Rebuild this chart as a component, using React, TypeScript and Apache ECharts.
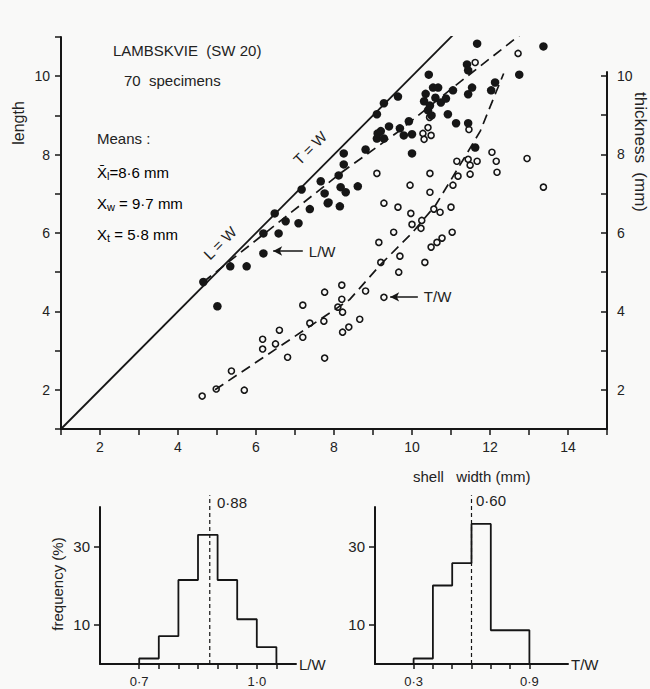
import React, { useEffect, useRef } from 'react';
import * as echarts from 'echarts';

// ---- main scatter: filled = length vs width, open = thickness vs width ----
const filledW = [4.65, 5.01, 5.34, 5.76, 6.19, 6.19, 6.48, 6.58, 6.76, 7.09, 7.38, 7.84, 7.17, 7.66, 7.76, 7.86, 8.15, 8.12, 8.17, 8.30, 8.25, 8.25, 8.61, 8.81, 9.10, 9.28, 9.12, 9.41, 9.69, 9.92, 9.79, 10.00, 10.00, 9.10, 9.28, 9.64, 10.43, 10.54, 10.67, 10.31, 10.46, 10.74, 10.41, 10.92, 11.05, 11.13, 11.44, 11.44, 11.54, 11.41, 11.44, 11.67, 12.03, 12.95, 13.37, 12.75, 12.03, 12.13, 11.62, 10.60, 10.35, 9.20, 10.50, 10.87];
const filledL = [4.75, 4.13, 5.15, 5.15, 5.48, 5.99, 6.50, 5.99, 6.30, 6.25, 6.61, 6.76, 7.11, 7.32, 7.01, 6.78, 6.68, 7.47, 7.17, 7.04, 8.03, 7.75, 7.19, 8.13, 8.41, 8.41, 8.54, 8.72, 8.67, 8.85, 8.49, 8.52, 8.03, 9.03, 9.31, 9.48, 10.04, 9.71, 9.71, 9.36, 9.25, 9.33, 9.13, 9.03, 9.64, 8.80, 8.80, 9.54, 9.71, 10.30, 10.15, 10.83, 11.34, 11.29, 10.76, 10.04, 9.64, 9.84, 8.18, 9.45, 9.55, 8.60, 9.00, 9.43];
const openW = [4.62, 4.98, 5.37, 5.70, 6.17, 6.17, 6.50, 6.60, 6.81, 7.20, 7.20, 7.38, 7.74, 7.76, 7.76, 8.20, 8.20, 8.10, 8.22, 8.22, 8.38, 8.66, 8.81, 9.20, 9.15, 9.28, 9.53, 9.66, 9.69, 9.97, 10.00, 10.25, 10.33, 10.49, 10.64, 10.77, 11.03, 10.56, 10.72, 11.00, 9.28, 9.64, 10.41, 10.28, 10.49, 10.31, 9.10, 10.46, 9.95, 10.46, 10.23, 11.46, 12.05, 12.16, 12.18, 12.95, 13.37, 11.15, 11.44, 11.67, 11.49, 11.49, 11.18, 11.05, 11.62, 12.72, 10.45];
const openT = [1.84, 2.02, 2.48, 1.99, 3.04, 3.29, 3.17, 3.52, 2.83, 4.16, 3.34, 3.70, 3.75, 4.49, 2.81, 4.67, 4.31, 4.11, 3.98, 3.47, 3.60, 3.80, 4.52, 5.25, 5.76, 4.36, 6.02, 5.00, 5.41, 6.50, 6.22, 6.32, 5.25, 5.64, 5.76, 5.87, 6.02, 6.61, 6.53, 6.66, 6.76, 6.66, 8.69, 8.54, 8.49, 8.39, 7.52, 7.52, 7.22, 7.04, 6.12, 8.64, 8.06, 7.83, 7.55, 7.90, 7.17, 7.83, 7.88, 7.83, 7.73, 7.50, 7.45, 7.22, 10.35, 10.58, 8.95];

// fitted trend lines (dashed) and equality line
const lwTrendW = [4.65, 8.2, 9.6, 11.1, 13.15];
const lwTrendL = [4.75, 7.55, 8.55, 9.75, 11.35];
const twTrendW = [4.95, 8.4, 9.2, 10.0, 10.6, 11.3, 11.75, 12.35];
const twTrendT = [2.0, 4.3, 5.2, 6.0, 6.7, 7.85, 8.6, 10.07];
const equalityEnds = [1, 11.5];

// arrow annotations [tipX, tailX, y]
const lwArrow = [6.44, 7.2, 5.54];
const twArrow = [9.44, 10.15, 4.37];

// axis ticks
const rightTicks = [2, 3, 4, 5, 6, 7, 8, 9, 10];
const rightLabels = [2, 4, 6, 8, 10];

// ---- histograms ----
const lwBinEdges = [0.7, 0.75, 0.8, 0.85, 0.9, 0.95, 1.0, 1.05];
const lwFreq = [1.4, 7.1, 21.4, 32.9, 21.4, 11.4, 4.3];
const lwMean = 0.88;
const lwTicks = [0.7, 0.75, 0.8, 0.85, 0.9, 0.95, 1.0, 1.05];
const lwLabels = [0.7, 1.0];

const twBinEdges = [0.3, 0.4, 0.5, 0.6, 0.7, 0.8, 0.9];
const twFreq = [1.4, 20.0, 25.7, 35.7, 8.6, 8.6];
const twMean = 0.6;
const twTicks = [0.3, 0.4, 0.5, 0.6, 0.7, 0.8, 0.9];
const twLabels = [0.3, 0.9];

const freqTicks = [10, 30];

const FONT = "'Liberation Sans', Arial, sans-serif";
const INK = '#161616';
const BG = '#f9f9f8';

function stepOutline(edges: number[], freq: number[]) {
  const pts: number[][] = [[edges[0], 0]];
  for (let i = 0; i < freq.length; i++) {
    pts.push([edges[i], freq[i]]);
    pts.push([edges[i + 1], freq[i]]);
  }
  pts.push([edges[edges.length - 1], 0]);
  return pts;
}

const dot1 = (v: number) => v.toFixed(1).replace('.', '·');
const dot2 = (v: number) => v.toFixed(2).replace('.', '·');

export default function App() {
  const ref = useRef<HTMLDivElement>(null);
  useEffect(() => {
    if (!ref.current) return;
    const chart = echarts.init(ref.current, null, { renderer: 'svg' });
    const axisLine = { show: true, onZero: false, lineStyle: { color: INK, width: 2 } };
    const lbl = { color: '#222', fontFamily: FONT, fontSize: 14 };

    const txt = (text: string, x: number, y: number, size = 15, align = 'left', rotation = 0) => ({
      type: 'text',
      x,
      y,
      rotation,
      style: { text, fill: '#222', font: `${size}px ${FONT}`, textAlign: align, textVerticalAlign: 'middle' },
    });

    const meanText = (main: string, sub: string, rest: string, y: number) => ({
      type: 'text',
      x: 97,
      y,
      style: {
        text: `{a|${main}}{s|${sub}}{a|${rest}}`,
        textVerticalAlign: 'middle',
        rich: {
          a: { fontSize: 15, fontFamily: FONT, color: '#222' },
          s: { fontSize: 11, fontFamily: FONT, color: '#222', padding: [8, 0, 0, 0] },
        },
      },
    });

    const histX = (grid: number, min: number, ticks: number[], labels: number[], name: string) => ({
      type: 'value', gridIndex: grid, min, max: 1.1,
      axisLine, splitLine: { show: false },
      name, nameLocation: 'end', nameGap: 3,
      nameTextStyle: { ...lbl, fontSize: 15, verticalAlign: 'middle', align: 'left' },
      axisTick: { show: true, length: 5, customValues: ticks, lineStyle: { color: INK, width: 1.5 } },
      axisLabel: { ...lbl, fontSize: 13, margin: 11, customValues: labels, formatter: dot1 },
    });

    const histY = (grid: number) => ({
      type: 'value', gridIndex: grid, min: 0, max: 40,
      axisLine, splitLine: { show: false },
      axisTick: { show: true, length: 6, customValues: freqTicks, lineStyle: { color: INK, width: 1.5 } },
      axisLabel: { ...lbl, fontSize: 15, margin: 10, customValues: freqTicks },
    });

    const arrowMark = (arrow: number[], name: string) => ({
      silent: true, symbol: ['arrow', 'none'], symbolSize: [7, 9],
      lineStyle: { color: INK, width: 1.5, type: 'solid' },
      label: { show: true, position: 'end', formatter: name, distance: 6, ...lbl, fontSize: 15 },
      data: [[{ coord: [arrow[0], arrow[2]] }, { coord: [arrow[1], arrow[2]] }]],
    });

    const option: any = {
      animation: false,
      backgroundColor: BG,
      grid: [
        { left: 61, top: 37, width: 546, height: 392 },
        { left: 61, top: 72, width: 546, height: 357 },
        { left: 100, top: 507, width: 196, height: 157 },
        { left: 375, top: 507, width: 193, height: 157 },
      ],
      xAxis: [
        {
          type: 'value', gridIndex: 0, min: 1, max: 15, interval: 1,
          axisLine, splitLine: { show: false },
          axisTick: { show: true, inside: false, length: 6, lineStyle: { color: INK, width: 1.5 } },
          axisLabel: { ...lbl, margin: 11, formatter: (v: number) => (v % 2 === 0 && v < 15 ? String(v) : '') },
        },
        { type: 'value', gridIndex: 1, min: 1, max: 15, show: false },
        histX(2, 0.6, lwTicks, lwLabels, 'L/W'),
        histX(3, 0.1, twTicks, twLabels, 'T/W'),
      ],
      yAxis: [
        {
          type: 'value', gridIndex: 0, min: 1, max: 11, interval: 1,
          axisLine, splitLine: { show: false },
          axisTick: { show: true, length: 6, lineStyle: { color: INK, width: 1.5 } },
          axisLabel: { ...lbl, margin: 11, formatter: (v: number) => (v % 2 === 0 ? String(v) : '') },
        },
        {
          type: 'value', gridIndex: 1, position: 'right', min: 1, max: 10.1,
          axisLine, splitLine: { show: false },
          axisTick: { show: true, inside: true, length: 6, customValues: rightTicks, lineStyle: { color: INK, width: 1.5 } },
          axisLabel: { ...lbl, margin: 10, customValues: rightLabels },
        },
        histY(2),
        histY(3),
      ],
      series: [
        {
          type: 'line', xAxisIndex: 0, yAxisIndex: 0, symbol: 'none', silent: true,
          data: equalityEnds.map((v) => [v, v]),
          lineStyle: { color: INK, width: 1.8 },
        },
        {
          type: 'line', xAxisIndex: 0, yAxisIndex: 0, symbol: 'none', silent: true,
          data: lwTrendW.map((w, i) => [w, lwTrendL[i]]),
          lineStyle: { color: INK, width: 1.7, type: [10, 6] },
        },
        {
          type: 'line', xAxisIndex: 0, yAxisIndex: 0, symbol: 'none', silent: true,
          data: twTrendW.map((w, i) => [w, twTrendT[i]]),
          lineStyle: { color: INK, width: 1.7, type: [10, 6] },
        },
        {
          type: 'scatter', xAxisIndex: 0, yAxisIndex: 0, symbol: 'circle', symbolSize: 6,
          data: openW.map((w, i) => [w, openT[i]]),
          itemStyle: { color: BG, borderColor: INK, borderWidth: 1.6, opacity: 1 },
          markLine: arrowMark(twArrow, 'T/W'),
        },
        {
          type: 'scatter', xAxisIndex: 0, yAxisIndex: 0, symbol: 'circle', symbolSize: 8.5,
          data: filledW.map((w, i) => [w, filledL[i]]),
          itemStyle: { color: INK, opacity: 1 },
          markLine: arrowMark(lwArrow, 'L/W'),
        },
        {
          type: 'line', xAxisIndex: 2, yAxisIndex: 2, symbol: 'none', silent: true,
          data: stepOutline(lwBinEdges, lwFreq),
          lineStyle: { color: INK, width: 1.8 },
        },
        {
          type: 'line', xAxisIndex: 2, yAxisIndex: 2, symbol: 'none', silent: true, clip: false,
          data: [[lwMean, 0], [lwMean, 43]],
          lineStyle: { color: INK, width: 1.2, type: [4, 3] },
        },
        {
          type: 'line', xAxisIndex: 3, yAxisIndex: 3, symbol: 'none', silent: true,
          data: stepOutline(twBinEdges, twFreq),
          lineStyle: { color: INK, width: 1.8 },
        },
        {
          type: 'line', xAxisIndex: 3, yAxisIndex: 3, symbol: 'none', silent: true, clip: false,
          data: [[twMean, 0], [twMean, 43]],
          lineStyle: { color: INK, width: 1.2, type: [4, 3] },
        },
      ],
      graphic: [
        txt('LAMBSKVIE  (SW 20)', 113, 50, 15),
        txt('70  specimens', 124, 80, 15),
        txt('Means :', 97, 138, 15),
        meanText('X̄', 'l', '=8·6 mm', 172),
        meanText('X', 'w', ' = 9·7 mm', 203),
        meanText('X', 't', ' = 5·8 mm', 234),
        txt('L = W', 220, 243, 15, 'center', Math.PI / 4),
        txt('T = W', 310, 148, 15, 'center', Math.PI / 4),
        txt('length', 18, 123, 16, 'center', Math.PI / 2),
        txt('thickness  (mm)', 640, 152, 17, 'center', -Math.PI / 2),
        txt('shell   width (mm)', 413, 476, 15),
        txt('frequency (%)', 57, 584, 15, 'center', Math.PI / 2),
        txt(dot2(lwMean), 217, 502, 15),
        txt(dot2(twMean), 476, 500, 15),
      ],
    };
    chart.setOption(option);
    return () => chart.dispose();
  }, []);
  return <div ref={ref} style={{ position: 'absolute', left: 0, top: 0, width: 650, height: 689 }} />;
}
